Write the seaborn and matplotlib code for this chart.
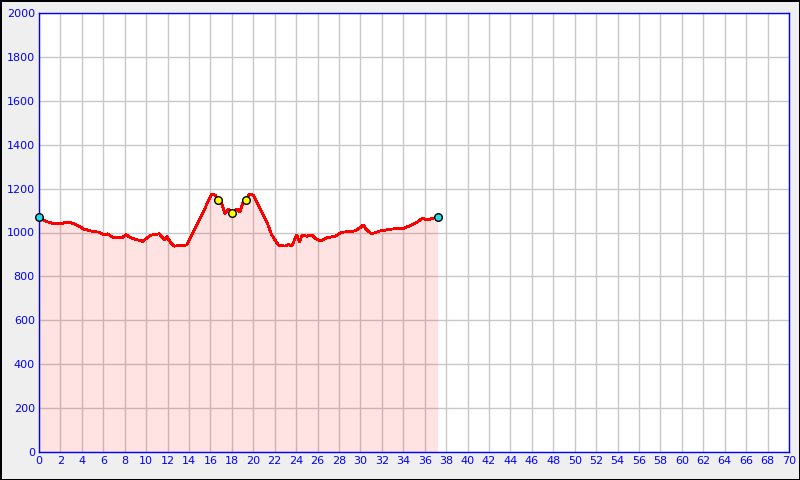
import matplotlib
matplotlib.use('Agg')
import matplotlib.pyplot as plt
import seaborn as sns
import pandas as pd

# Elevation profile (km, m)
km = [0.0, 0.65, 1.28, 2.05, 2.68, 3.15, 3.76, 4.23, 4.85, 5.63, 6.09, 6.41, 6.88,
      7.81, 8.12, 8.59, 9.68, 10.45, 11.23, 11.70, 11.95, 12.32, 12.63, 13.16, 13.79,
      14.09, 14.56, 15.03, 15.49, 15.90, 16.12, 16.43, 16.74, 17.05, 17.36, 17.67,
      18.04, 18.45, 18.76, 19.01, 19.32, 19.60, 20.00, 20.32, 20.79, 21.25, 21.72,
      22.34, 22.96, 23.27, 23.59, 24.05, 24.30, 24.58, 24.99, 25.45, 25.76, 26.23,
      26.85, 27.63, 28.25, 29.49, 29.96, 30.27, 30.59, 31.05, 31.83, 32.92, 34.00,
      34.79, 35.25, 35.78, 36.34, 36.71, 37.21]
elev = [1070, 1050, 1042, 1040, 1048, 1042, 1027, 1015, 1007, 1001, 988, 994, 978,
        978, 990, 975, 960, 988, 994, 966, 981, 951, 938, 940, 943,
        973, 1019, 1064, 1110, 1156, 1174, 1171, 1148, 1133, 1087, 1107,
        1089, 1107, 1095, 1133, 1148, 1174, 1171, 1140, 1095, 1050, 989,
        943, 938, 946, 938, 989, 958, 989, 983, 989, 975, 961,
        975, 983, 1001, 1007, 1022, 1034, 1011, 994, 1007, 1016, 1019,
        1034, 1046, 1064, 1057, 1064, 1070]

# Waypoints
wp_km = [16.74, 18.04, 19.32]
wp_elev = [1148, 1089, 1148]
end_km = [0.0, 37.21]
end_elev = [1070, 1070]

df = pd.DataFrame({'km': km, 'elev': elev})

sns.set_style('white')
plt.rcParams['font.family'] = ['DejaVu Sans']

fig = plt.figure(figsize=(8, 4.8), dpi=100)
fig.patch.set_facecolor('#efefef')
fig.patch.set_edgecolor('black')
fig.patch.set_linewidth(2)
ax = fig.add_axes([39 / 800, 28 / 480, 750 / 800, 439 / 480])
ax.set_facecolor('white')

blue = '#0000ff'
ax.set_xlim(0, 70)
ax.set_ylim(0, 2000)
ax.set_xticks(range(0, 71, 2))
ax.set_yticks(range(0, 2001, 200))
ax.grid(True, color='#c8c8c8', linewidth=1)
ax.set_axisbelow(True)

ax.fill_between(df['km'], df['elev'], 0, color='#ff0000', alpha=0.11, linewidth=0, zorder=2)
sns.lineplot(data=df, x='km', y='elev', ax=ax, color='#ff0000', linewidth=1.3,
             antialiased=False, zorder=3)
sns.scatterplot(x=wp_km, y=wp_elev, ax=ax, color='#ffff00', edgecolor='black',
                s=30, linewidth=1, zorder=4)
sns.scatterplot(x=end_km, y=end_elev, ax=ax, color='#22ddee', edgecolor='black',
                s=30, linewidth=1, zorder=4, clip_on=False)

ax.set_xlabel('')
ax.set_ylabel('')
for s in ax.spines.values():
    s.set_color(blue)
    s.set_linewidth(1)
ax.tick_params(axis='both', direction='in', length=5, width=1, color=blue,
               labelcolor=blue, labelsize=8, pad=3)

fig.savefig('out.png', dpi=100, facecolor='#efefef', edgecolor='black')
plt.close(fig)
